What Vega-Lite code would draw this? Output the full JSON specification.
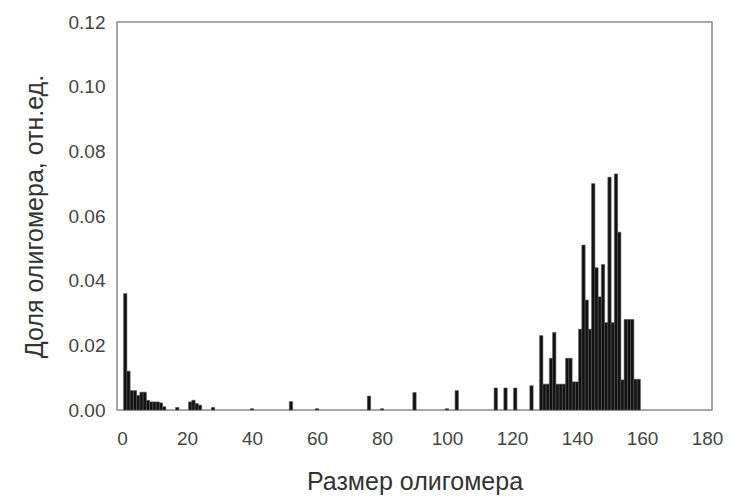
{
  "$schema": "https://vega.github.io/schema/vega-lite/v6.json",
  "width": 595,
  "height": 388,
  "autosize": "none",
  "padding": {"left": 117, "top": 22, "right": 21, "bottom": 90},
  "background": "white",
  "config": {
    "font": "Liberation Sans",
    "view": {"stroke": "#8a8a8a", "strokeWidth": 1.5},
    "axis": {"grid": false, "domain": false, "ticks": false, "labelFont": "Liberation Sans", "titleFont": "Liberation Sans", "labelFontSize": 19, "labelColor": "#444", "titleFontSize": 25, "titleFontWeight": "normal", "titleColor": "#333"}
  },
  "data": {"values": [
    {"size": 1, "share": 0.036},
    {"size": 2, "share": 0.012},
    {"size": 3, "share": 0.006},
    {"size": 4, "share": 0.006},
    {"size": 5, "share": 0.0045},
    {"size": 6, "share": 0.0055},
    {"size": 7, "share": 0.0055},
    {"size": 8, "share": 0.003},
    {"size": 9, "share": 0.0025},
    {"size": 10, "share": 0.0025},
    {"size": 11, "share": 0.0025},
    {"size": 12, "share": 0.0022},
    {"size": 13, "share": 0.001},
    {"size": 17, "share": 0.0008},
    {"size": 21, "share": 0.0025},
    {"size": 22, "share": 0.003},
    {"size": 23, "share": 0.002},
    {"size": 24, "share": 0.0015},
    {"size": 28, "share": 0.0008},
    {"size": 40, "share": 0.0004},
    {"size": 52, "share": 0.0026},
    {"size": 60, "share": 0.0004},
    {"size": 76, "share": 0.0043},
    {"size": 80, "share": 0.0004},
    {"size": 90, "share": 0.0054},
    {"size": 100, "share": 0.0004},
    {"size": 103, "share": 0.006},
    {"size": 115, "share": 0.0068},
    {"size": 118, "share": 0.0068},
    {"size": 121, "share": 0.0068},
    {"size": 126, "share": 0.0075},
    {"size": 129, "share": 0.023},
    {"size": 130, "share": 0.008},
    {"size": 131, "share": 0.008},
    {"size": 132, "share": 0.016},
    {"size": 133, "share": 0.024},
    {"size": 134, "share": 0.008},
    {"size": 135, "share": 0.008},
    {"size": 136, "share": 0.008},
    {"size": 137, "share": 0.016},
    {"size": 138, "share": 0.016},
    {"size": 139, "share": 0.0087},
    {"size": 140, "share": 0.0087},
    {"size": 141, "share": 0.025},
    {"size": 142, "share": 0.051},
    {"size": 143, "share": 0.034},
    {"size": 144, "share": 0.025},
    {"size": 145, "share": 0.070},
    {"size": 146, "share": 0.044},
    {"size": 147, "share": 0.035},
    {"size": 148, "share": 0.045},
    {"size": 149, "share": 0.027},
    {"size": 150, "share": 0.072},
    {"size": 151, "share": 0.027},
    {"size": 152, "share": 0.073},
    {"size": 153, "share": 0.055},
    {"size": 154, "share": 0.0093},
    {"size": 155, "share": 0.028},
    {"size": 156, "share": 0.028},
    {"size": 157, "share": 0.028},
    {"size": 158, "share": 0.0095},
    {"size": 159, "share": 0.0095}
  ]},
  "mark": {"type": "bar", "size": 3.3, "color": "#111", "stroke": "#555", "strokeWidth": 0.6},
  "encoding": {
    "x": {"field": "size", "type": "quantitative", "scale": {"domain": [0, 180], "nice": false, "zero": true}, "axis": {"values": [0, 20, 40, 60, 80, 100, 120, 140, 160, 180], "labelPadding": 19, "title": "Размер олигомера", "titlePadding": 21}},
    "y": {"field": "share", "type": "quantitative", "scale": {"domain": [0, 0.12], "nice": false}, "axis": {"values": [0, 0.02, 0.04, 0.06, 0.08, 0.1, 0.12], "format": ".2f", "labelPadding": 12, "title": "Доля олигомера, отн.ед.", "titlePadding": 21}}
  }
}
